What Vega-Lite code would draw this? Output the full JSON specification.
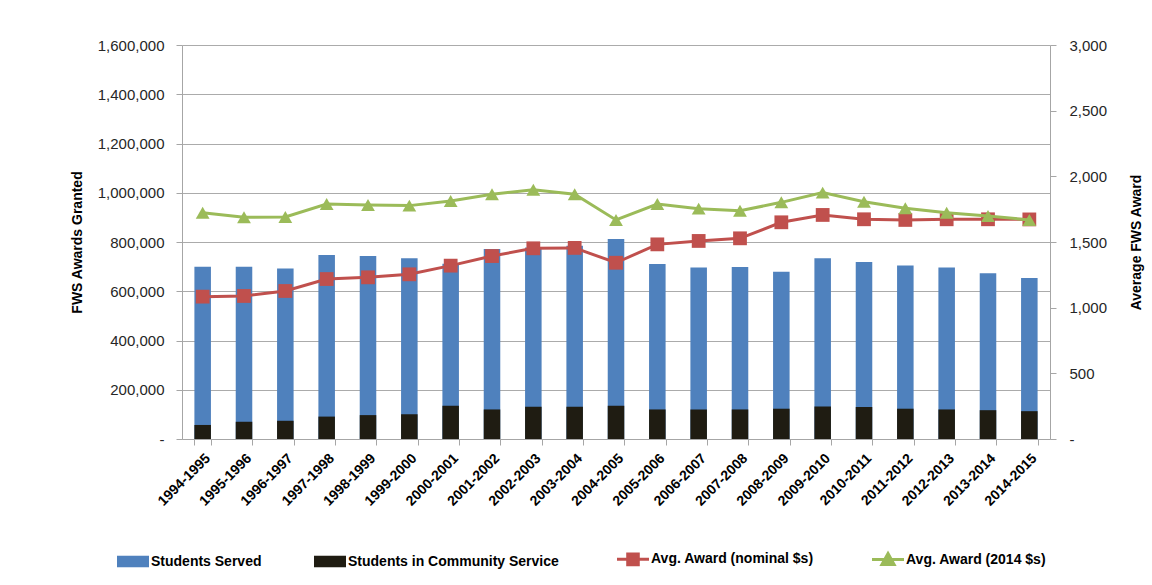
{
  "$schema": "https://vega.github.io/schema/vega-lite/v6.json",
  "width": 868,
  "height": 394,
  "autosize": {"type": "none"},
  "padding": {"left": 182, "top": 45, "right": 102, "bottom": 146},
  "background": "white",
  "config": {
    "font": "Liberation Sans",
    "view": {"stroke": null},
    "axis": {
      "domainColor": "#A6A6A6",
      "tickColor": "#A6A6A6",
      "gridColor": "#ABABAB",
      "labelColor": "#262626",
      "titleColor": "#000000",
      "labelFont": "Liberation Sans",
      "titleFont": "Liberation Sans",
      "labelFontSize": 15,
      "titleFontSize": 14,
      "titleFontWeight": "bold",
      "tickSize": 6
    }
  },
  "data": {
    "values": [
      {"year": "1994-1995", "served": 700000, "community": 57000, "nominal": 1084, "real": 1723},
      {"year": "1995-1996", "served": 700000, "community": 70000, "nominal": 1089, "real": 1688},
      {"year": "1996-1997", "served": 692000, "community": 74000, "nominal": 1127, "real": 1690},
      {"year": "1997-1998", "served": 747000, "community": 91000, "nominal": 1218, "real": 1789},
      {"year": "1998-1999", "served": 743000, "community": 97000, "nominal": 1231, "real": 1782},
      {"year": "1999-2000", "served": 734000, "community": 101000, "nominal": 1254, "real": 1777},
      {"year": "2000-2001", "served": 712000, "community": 135000, "nominal": 1320, "real": 1812},
      {"year": "2001-2002", "served": 772000, "community": 120000, "nominal": 1393, "real": 1863},
      {"year": "2002-2003", "served": 778000, "community": 131000, "nominal": 1452, "real": 1898},
      {"year": "2003-2004", "served": 785000, "community": 131000, "nominal": 1455, "real": 1863},
      {"year": "2004-2005", "served": 812000, "community": 135000, "nominal": 1342, "real": 1668},
      {"year": "2005-2006", "served": 711000, "community": 120000, "nominal": 1482, "real": 1789},
      {"year": "2006-2007", "served": 696000, "community": 120000, "nominal": 1508, "real": 1754},
      {"year": "2007-2008", "served": 698000, "community": 120000, "nominal": 1528, "real": 1738},
      {"year": "2008-2009", "served": 679000, "community": 123000, "nominal": 1650, "real": 1802},
      {"year": "2009-2010", "served": 734000, "community": 132000, "nominal": 1706, "real": 1876},
      {"year": "2010-2011", "served": 719000, "community": 130000, "nominal": 1673, "real": 1807},
      {"year": "2011-2012", "served": 705000, "community": 123000, "nominal": 1668, "real": 1757},
      {"year": "2012-2013", "served": 696000, "community": 120000, "nominal": 1673, "real": 1723},
      {"year": "2013-2014", "served": 673000, "community": 117000, "nominal": 1673, "real": 1698},
      {"year": "2014-2015", "served": 654000, "community": 113000, "nominal": 1672, "real": 1668}
    ]
  },
  "encoding": {
    "x": {
      "field": "year",
      "type": "nominal",
      "sort": null,
      "title": null,
      "scale": {"paddingInner": 0.6, "paddingOuter": 0.3},
      "axis": {
        "labelAngle": -45,
        "labelFontWeight": "bold",
        "labelFontSize": 14,
        "labelColor": "#000000",
        "tickBand": "extent",
        "labelPadding": 6,
        "grid": false
      }
    }
  },
  "layer": [
    {
      "layer": [
        {
          "mark": {"type": "bar"},
          "encoding": {
            "y": {
              "field": "served",
              "type": "quantitative",
              "title": "FWS Awards Granted",
              "scale": {"domain": [0, 1600000]},
              "axis": {
                "values": [0, 200000, 400000, 600000, 800000, 1000000, 1200000, 1400000, 1600000],
                "labelExpr": "datum.value == 0 ? '-' : format(datum.value, ',')",
                "grid": true,
                "labelPadding": 12,
                "titlePadding": 13
              }
            },
            "color": {
              "datum": "Students Served",
              "scale": {
                "domain": ["Students Served", "Students in Community Service", "Avg. Award (nominal $s)", "Avg. Award (2014 $s)"],
                "range": ["#4F81BD", "#1F1C12", "#C0504D", "#9BBB59"]
              },
              "legend": {
                "orient": "none",
                "legendX": -56,
                "legendY": 507,
                "direction": "horizontal",
                "columns": 4,
                "title": null,
                "labelFont": "Liberation Sans",
                "labelFontSize": 14,
                "labelFontWeight": "bold",
                "labelColor": "#000000",
                "labelLimit": 0,
                "symbolSize": 1024,
                "columnPadding": 52,
                "labelOffset": 11,
                "encode": {
                  "symbols": {
                    "update": {
                      "shape": {"signal": "datum.value === 'Students Served' || datum.value === 'Students in Community Service' ? 'M-1,-0.36H1V0.36H-1Z' : (datum.value === 'Avg. Award (nominal $s)' ? 'M-1,0H1M-0.33,-0.33H0.33V0.33H-0.33Z' : 'M-1,0H1M0,-0.38L0.38,0.3H-0.38Z')"},
                      "stroke": {"signal": "scale('color', datum.value)"},
                      "strokeWidth": {"signal": "datum.value === 'Students Served' || datum.value === 'Students in Community Service' ? 0 : 3"}
                    }
                  }
                }
              }
            }
          }
        },
        {
          "mark": {"type": "bar"},
          "encoding": {
            "y": {"field": "community", "type": "quantitative", "title": "FWS Awards Granted"},
            "color": {"datum": "Students in Community Service"}
          }
        }
      ]
    },
    {
      "layer": [
        {
          "mark": {"type": "line", "color": "#C0504D", "strokeWidth": 3, "point": {"shape": "square", "size": 190, "filled": true, "color": "#C0504D"}},
          "encoding": {
            "y": {
              "field": "nominal",
              "type": "quantitative",
              "title": "Average FWS Award",
              "scale": {"domain": [0, 3000]},
              "axis": {
                "orient": "right",
                "values": [0, 500, 1000, 1500, 2000, 2500, 3000],
                "labelExpr": "datum.value == 0 ? '-' : format(datum.value, ',')",
                "grid": false,
                "labelPadding": 13,
                "titlePadding": 23,
                "titleAngle": 270,
                "titleBaseline": "top"
              }
            }
          }
        },
        {
          "mark": {"type": "line", "color": "#9BBB59", "strokeWidth": 3, "point": {"shape": "triangle-up", "size": 190, "filled": true, "color": "#9BBB59"}},
          "encoding": {
            "y": {"field": "real", "type": "quantitative", "title": "Average FWS Award"}
          }
        }
      ]
    }
  ],
  "resolve": {"scale": {"y": "independent"}}
}
